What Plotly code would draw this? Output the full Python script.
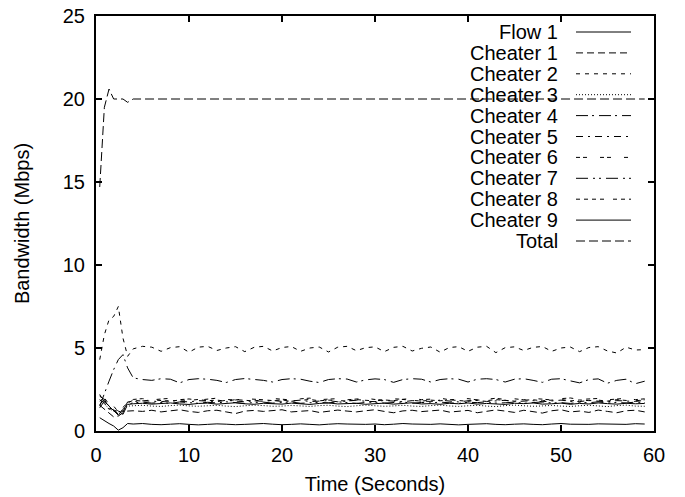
import plotly.graph_objects as go

time_s = [0.4, 0.9, 1.4, 1.9, 2.4, 2.9, 3.4,
          4, 5, 6, 7, 8, 9, 10, 11, 12, 13, 14, 15, 16, 17, 18, 19, 20, 21,
          22, 23, 24, 25, 26, 27, 28, 29, 30, 31, 32, 33, 34, 35, 36, 37, 38,
          39, 40, 41, 42, 43, 44, 45, 46, 47, 48, 49, 50, 51, 52, 53, 54, 55,
          56, 57, 58, 59]

flow1 = [0.8, 0.6, 0.45, 0.3, 0.05, 0.2, 0.45,
         0.42, 0.45, 0.40, 0.38, 0.41, 0.44, 0.40, 0.37,
         0.40, 0.43, 0.41, 0.38, 0.40, 0.42, 0.45, 0.41,
         0.38, 0.40, 0.43, 0.40, 0.37, 0.41, 0.44, 0.42,
         0.39, 0.40, 0.42, 0.38, 0.41, 0.45, 0.42, 0.39,
         0.40, 0.43, 0.40, 0.37, 0.40, 0.42, 0.44, 0.40,
         0.38, 0.41, 0.43, 0.40, 0.38, 0.42, 0.45, 0.41,
         0.39, 0.40, 0.43, 0.41, 0.38, 0.40, 0.44, 0.42]

cheater1 = [1.55, 1.3, 1.05, 0.85, 0.9, 1.1, 1.2,
            1.22, 1.18, 1.25, 1.15, 1.20, 1.28, 1.18, 1.12,
            1.22, 1.25, 1.15, 1.05, 1.20, 1.24, 1.18, 1.22,
            1.28, 1.15, 1.20, 1.23, 1.12, 1.18, 1.26, 1.20,
            1.15, 1.22, 1.28, 1.18, 1.10, 1.21, 1.25, 1.17,
            1.20, 1.26, 1.14, 1.20, 1.24, 1.10, 1.18, 1.27,
            1.20, 1.12, 1.25, 1.18, 1.08, 1.22, 1.28, 1.15,
            1.20, 1.12, 1.26, 1.18, 1.10, 1.22, 1.25, 1.15]

cheater2 = [4.3, 5.8, 6.7, 6.9, 7.5, 5.6, 4.5,
            4.95, 5.10, 5.05, 4.80, 5.02, 5.08, 4.75, 5.05,
            5.10, 4.85, 5.00, 5.08, 4.78, 5.04, 5.10, 4.82,
            5.03, 5.09, 4.80, 5.00, 5.06, 4.76, 5.05, 5.10,
            4.84, 5.02, 5.07, 4.78, 5.04, 5.10, 4.82, 4.98,
            5.06, 4.75, 5.03, 5.08, 4.80, 5.05, 5.10, 4.72,
            5.02, 5.07, 4.85, 5.04, 5.09, 4.80, 5.00, 5.06,
            4.78, 5.03, 5.08, 4.82, 4.70, 5.05, 4.88, 4.90]

cheater3 = [1.9, 1.65, 1.35, 1.2, 1.1, 1.3, 1.5,
            1.52, 1.55, 1.50, 1.48, 1.53, 1.56, 1.51, 1.49,
            1.52, 1.55, 1.50, 1.47, 1.52, 1.56, 1.53, 1.49,
            1.50, 1.54, 1.51, 1.48, 1.53, 1.55, 1.50, 1.47,
            1.52, 1.56, 1.52, 1.49, 1.51, 1.55, 1.50, 1.48,
            1.53, 1.56, 1.51, 1.48, 1.52, 1.55, 1.50, 1.47,
            1.53, 1.56, 1.52, 1.49, 1.51, 1.54, 1.50, 1.48,
            1.52, 1.55, 1.51, 1.47, 1.53, 1.56, 1.50, 1.49]

cheater4 = [1.5, 2.3, 3.0, 3.7, 4.3, 4.6, 3.8,
            3.20, 3.10, 3.05, 3.15, 3.12, 2.90, 3.10, 3.15,
            3.12, 3.05, 2.92, 3.10, 3.16, 3.12, 3.05, 2.95,
            3.10, 3.15, 3.12, 3.00, 2.92, 3.10, 3.15, 3.13,
            2.95, 3.08, 3.14, 3.10, 2.93, 3.10, 3.15, 3.12,
            2.95, 3.10, 3.15, 3.12, 2.95, 3.12, 3.15, 3.10,
            2.95, 3.12, 3.15, 3.05, 2.93, 3.12, 3.15, 3.02,
            2.90, 3.10, 3.14, 2.88, 3.05, 3.12, 2.85, 3.00]

cheater5 = [2.1, 1.9, 1.5, 1.3, 1.0, 1.2, 1.75,
            1.78, 1.82, 1.80, 1.76, 1.84, 1.79, 1.75, 1.83,
            1.80, 1.77, 1.85, 1.81, 1.76, 1.82, 1.79, 1.84,
            1.78, 1.81, 1.86, 1.77, 1.80, 1.83, 1.76, 1.82,
            1.85, 1.79, 1.77, 1.84, 1.81, 1.76, 1.83, 1.80,
            1.78, 1.86, 1.80, 1.75, 1.82, 1.84, 1.78, 1.81,
            1.85, 1.77, 1.80, 1.83, 1.76, 1.82, 1.86, 1.79,
            1.77, 1.84, 1.80, 1.76, 1.83, 1.81, 1.78, 1.85]

cheater6 = [1.8, 2.0, 1.6, 1.4, 1.2, 1.1, 1.8,
            1.90, 1.95, 1.88, 1.92, 1.97, 1.89, 1.93, 1.86,
            1.94, 1.98, 1.90, 1.87, 1.95, 1.92, 1.88, 1.96,
            1.91, 1.87, 1.94, 1.98, 1.89, 1.92, 1.95, 1.88,
            1.93, 1.97, 1.90, 1.86, 1.94, 1.91, 1.96, 1.89,
            1.92, 1.98, 1.88, 1.93, 1.95, 1.87, 1.91, 1.97,
            1.90, 1.94, 1.88, 1.96, 1.92, 1.87, 1.95, 1.99,
            1.90, 1.93, 1.96, 1.88, 1.92, 1.97, 1.89, 1.94]

cheater7 = [1.6, 1.9, 1.4, 1.2, 1.25, 1.0, 1.6,
            1.70, 1.74, 1.68, 1.72, 1.66, 1.75, 1.71, 1.67,
            1.73, 1.69, 1.76, 1.70, 1.66, 1.72, 1.74, 1.68,
            1.71, 1.75, 1.67, 1.70, 1.73, 1.69, 1.76, 1.71,
            1.66, 1.72, 1.74, 1.68, 1.70, 1.75, 1.67, 1.72,
            1.69, 1.74, 1.70, 1.66, 1.73, 1.71, 1.76, 1.68,
            1.70, 1.74, 1.67, 1.72, 1.75, 1.69, 1.71, 1.66,
            1.73, 1.70, 1.76, 1.68, 1.72, 1.69, 1.74, 1.71]

cheater8 = [2.2, 1.7, 1.3, 1.5, 1.15, 1.4, 1.7,
            1.85, 1.80, 1.88, 1.83, 1.79, 1.87, 1.84, 1.90,
            1.82, 1.86, 1.80, 1.89, 1.85, 1.81, 1.88, 1.83,
            1.87, 1.79, 1.85, 1.90, 1.82, 1.86, 1.84, 1.80,
            1.89, 1.85, 1.81, 1.87, 1.83, 1.90, 1.84, 1.80,
            1.86, 1.82, 1.88, 1.85, 1.79, 1.87, 1.83, 1.89,
            1.84, 1.80, 1.86, 1.88, 1.82, 1.85, 1.90, 1.81,
            1.87, 1.83, 1.86, 1.80, 1.89, 1.84, 1.82, 1.88]

cheater9 = [1.4, 1.8, 1.5, 1.2, 0.95, 1.3, 1.6,
            1.64, 1.67, 1.62, 1.66, 1.69, 1.63, 1.60, 1.66,
            1.68, 1.62, 1.65, 1.70, 1.64, 1.61, 1.67, 1.65,
            1.62, 1.68, 1.64, 1.60, 1.66, 1.69, 1.63, 1.65,
            1.67, 1.61, 1.64, 1.68, 1.62, 1.66, 1.70, 1.63,
            1.65, 1.61, 1.67, 1.64, 1.69, 1.62, 1.66, 1.63,
            1.60, 1.67, 1.65, 1.69, 1.62, 1.64, 1.68, 1.61,
            1.66, 1.63, 1.69, 1.65, 1.62, 1.67, 1.64, 1.66]

total = [14.7, 19.5, 20.6, 20.0, 20.0, 20.0, 19.8,
         20.0, 20.0, 20.0, 20.0, 20.0, 20.0, 20.0, 20.0,
         20.0, 20.0, 20.0, 20.0, 20.0, 20.0, 20.0, 20.0,
         20.0, 20.0, 20.0, 20.0, 20.0, 20.0, 20.0, 20.0,
         20.0, 20.0, 20.0, 20.0, 20.0, 20.0, 20.0, 20.0,
         20.0, 20.0, 20.0, 20.0, 20.0, 20.0, 20.0, 20.0,
         20.0, 20.0, 20.0, 20.0, 20.0, 20.0, 20.0, 20.0,
         20.0, 20.0, 20.0, 20.0, 20.0, 20.0, 20.0, 20.0]

series_names = ["Flow 1", "Cheater 1", "Cheater 2", "Cheater 3", "Cheater 4",
                "Cheater 5", "Cheater 6", "Cheater 7", "Cheater 8",
                "Cheater 9", "Total"]
series_values = [flow1, cheater1, cheater2, cheater3, cheater4, cheater5,
                 cheater6, cheater7, cheater8, cheater9, total]

x_ticks = [0, 10, 20, 30, 40, 50, 60]
y_ticks = [0, 5, 10, 15, 20, 25]

# line styles (gnuplot-like dash patterns)
dashes = ["solid", "7px,4px", "4px,5px", "1px,2px", "12px,4px,2px,5px",
          "7px,5px,2px,5px", "4px,3px,4px,13px", "12px,5px,2px,4px,2px,5px",
          "4px,4px,4px,4px,4px,4px,4px,9px", "solid", "9px,4px"]

FONT = "Liberation Sans, Arial, Helvetica, sans-serif"
FS = 20

fig = go.Figure()
for name, vals, dsh in zip(series_names, series_values, dashes):
    fig.add_trace(go.Scatter(x=time_s, y=vals, mode="lines", name=name,
                             line=dict(color="black", width=1, dash=dsh),
                             showlegend=False))

W, H = 685, 497
plot_left, plot_right, plot_top, plot_bottom = 96, 654, 16, 431
pw, ph = plot_right - plot_left, plot_bottom - plot_top

# gnuplot-style key: right-aligned text with the line sample on its right
key_text_x = (560 - plot_left) / pw
key_line_x0 = (576 - plot_left) / pw
key_line_x1 = (631 - plot_left) / pw
annotations = []
shapes = []
for i, (name, dsh) in enumerate(zip(series_names, dashes)):
    py = 32 + 20.9 * i
    yp = (plot_bottom - py) / ph
    annotations.append(dict(x=key_text_x, y=yp, xref="paper", yref="paper",
                            text=name, showarrow=False, xanchor="right",
                            yanchor="middle",
                            font=dict(family=FONT, size=FS, color="black")))
    shapes.append(dict(type="line", xref="paper", yref="paper",
                       x0=key_line_x0, x1=key_line_x1, y0=yp, y1=yp,
                       line=dict(color="black", width=1, dash=dsh)))

axis_common = dict(showline=True, linecolor="black", linewidth=2,
                   mirror="allticks", ticks="inside", ticklen=6,
                   tickwidth=1.5, tickcolor="black", showgrid=False,
                   zeroline=False, ticklabelstandoff=5,
                   tickfont=dict(family=FONT, size=FS, color="black"))

fig.update_layout(
    width=W, height=H,
    margin=dict(l=plot_left, r=W - plot_right, t=plot_top,
                b=H - plot_bottom),
    paper_bgcolor="white", plot_bgcolor="white",
    font=dict(family=FONT, size=FS, color="black"),
    xaxis=dict(range=[0, 60], tickvals=x_ticks, automargin=False,
               title=dict(text="Time (Seconds)", standoff=12,
                          font=dict(family=FONT, size=FS)),
               **axis_common),
    yaxis=dict(range=[0, 25], tickvals=y_ticks, automargin=False,
               title=dict(text="Bandwidth (Mbps)", standoff=28,
                          font=dict(family=FONT, size=FS)),
               **axis_common),
    annotations=annotations,
    shapes=shapes,
)

fig.write_html("out.html",
               config={"displayModeBar": False},
               post_script="document.body.style.margin='0';"
                           "document.body.style.overflow='hidden';")
